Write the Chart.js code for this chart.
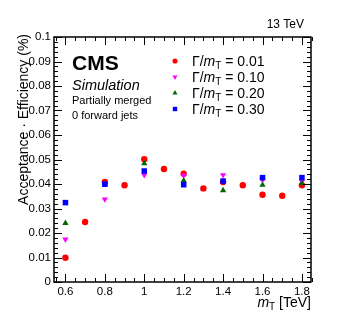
<!DOCTYPE html>
<html lang="en">
<head>
    <meta charset="UTF-8">
    <title>Acceptance x Efficiency</title>
    <script src="https://cdn.jsdelivr.net/npm/chart.js"></script>
    <style>
        body { margin: 0; background: #fff; }
        canvas { display: block; }
    </style>
</head>
<body>
    <canvas id="effChart" width="349" height="335"></canvas>

    <script>
        // masses (TeV)
        const massNarrow = [0.6, 0.7, 0.8, 0.9, 1.0, 1.1, 1.2, 1.3, 1.4, 1.5, 1.6, 1.7, 1.8];
        const massWide = [0.6, 0.8, 1.0, 1.2, 1.4, 1.6, 1.8];

        // acceptance x efficiency per width hypothesis
        const eff001 = [0.0099, 0.0245, 0.0408, 0.0395, 0.0501, 0.0461, 0.0442, 0.0382, 0.0408, 0.0395, 0.0356, 0.0352, 0.0395];
        const eff010 = [0.0174, 0.0338, 0.0437, 0.0436, 0.0437, 0.0416, 0.0411];
        const eff020 = [0.0240, 0.0400, 0.0484, 0.0414, 0.0374, 0.0396, 0.0403];
        const eff030 = [0.0324, 0.0399, 0.0453, 0.0397, 0.0412, 0.0426, 0.0426];

        const widthLabels = ['0.01', '0.10', '0.20', '0.30'];
        const xTicks = [0.6, 0.8, 1.0, 1.2, 1.4, 1.6, 1.8];
        const yTicks = [0, 0.01, 0.02, 0.03, 0.04, 0.05, 0.06, 0.07, 0.08, 0.09, 0.1];

        const FONT = "'Liberation Sans', Arial, sans-serif";
        Chart.defaults.font.family = FONT;
        Chart.defaults.font.size = 11.5;
        Chart.defaults.color = '#000';

        function pts(xs, ys) {
            return xs.map((x, i) => ({ x: x, y: ys[i] }));
        }
        const fmt = v => String(+v.toFixed(3));

        const styles = [
            { color: '#ff0000', pointStyle: 'circle', rotation: 0, radius: 3.2 },
            { color: '#ff00ff', pointStyle: 'triangle', rotation: 180, radius: 3.6 },
            { color: '#006600', pointStyle: 'triangle', rotation: 0, radius: 3.6 },
            { color: '#0000ff', pointStyle: 'rect', rotation: 0, radius: 3.9 }
        ];
        const series = [pts(massNarrow, eff001), pts(massWide, eff010), pts(massWide, eff020), pts(massWide, eff030)];

        // ROOT-like frame with inner ticks, and the text decorations
        const decorations = {
            id: 'decorations',
            afterDatasetsDraw(chart) {
                const ctx = chart.ctx;
                const a = chart.chartArea;
                const xs = chart.scales.x, ys = chart.scales.y;
                ctx.save();
                ctx.strokeStyle = '#000';
                ctx.lineWidth = 1;
                for (let i = 11; i <= 37; i++) {
                    const v = i * 0.05;
                    const px = Math.round(xs.getPixelForValue(v)) + 0.5;
                    const len = (i % 4 === 0) ? 8 : 4;
                    ctx.beginPath();
                    ctx.moveTo(px, a.bottom); ctx.lineTo(px, a.bottom - len);
                    ctx.moveTo(px, a.top); ctx.lineTo(px, a.top + len);
                    ctx.stroke();
                }
                for (let i = 0; i <= 50; i++) {
                    const v = i * 0.002;
                    const py = Math.round(ys.getPixelForValue(v)) + 0.5;
                    const len = (i % 5 === 0) ? 8 : 4;
                    ctx.beginPath();
                    ctx.moveTo(a.left, py); ctx.lineTo(a.left + len, py);
                    ctx.moveTo(a.right, py); ctx.lineTo(a.right - len, py);
                    ctx.stroke();
                }
                ctx.lineWidth = 1.5;
                ctx.strokeRect(a.left, a.top, a.right - a.left, a.bottom - a.top);

                ctx.fillStyle = '#000';
                ctx.textBaseline = 'alphabetic';
                ctx.textAlign = 'right';
                ctx.font = '12px ' + FONT;
                ctx.fillText('13 TeV', 304, 28);

                // CMS block
                ctx.textAlign = 'left';
                ctx.font = 'bold 21px ' + FONT;
                ctx.fillText('CMS', 72, 70);
                ctx.font = 'italic 14.5px ' + FONT;
                ctx.fillText('Simulation', 72, 90);
                ctx.font = '11px ' + FONT;
                ctx.fillText('Partially merged', 72, 104);
                ctx.fillText('0 forward jets', 72, 119);

                // legend
                const legY = [61, 77, 93, 109];
                styles.forEach((s, i) => {
                    ctx.fillStyle = s.color;
                    ctx.strokeStyle = s.color;
                    Chart.helpers.drawPoint(ctx, { pointStyle: s.pointStyle, rotation: s.rotation, radius: s.radius * 0.8, borderWidth: 0 }, 175, legY[i]);
                    ctx.fillStyle = '#000';
                    let x = 192;
                    const base = legY[i] + 5;
                    ctx.font = '14px ' + FONT;
                    ctx.fillText('Γ/', x, base); x += ctx.measureText('Γ/').width;
                    ctx.font = 'italic 14px ' + FONT;
                    ctx.fillText('m', x, base); x += ctx.measureText('m').width;
                    ctx.font = '10px ' + FONT;
                    ctx.fillText('T', x, base + 3); x += ctx.measureText('T').width;
                    ctx.font = '14px ' + FONT;
                    ctx.fillText(' = ' + widthLabels[i], x, base);
                });

                // x title, right aligned
                ctx.font = '14px ' + FONT;
                let tx = a.right;
                ctx.textAlign = 'right';
                ctx.fillText(' [TeV]', tx, 307); tx -= ctx.measureText(' [TeV]').width;
                ctx.font = '10px ' + FONT;
                ctx.fillText('T', tx, 310); tx -= ctx.measureText('T').width;
                ctx.font = 'italic 14px ' + FONT;
                ctx.fillText('m', tx, 307);

                // y title, rotated, right aligned near top
                ctx.translate(28, 34);
                ctx.rotate(-Math.PI / 2);
                ctx.font = '14px ' + FONT;
                ctx.textAlign = 'right';
                ctx.fillText('Acceptance · Efficiency (%)', 0, 0);
                ctx.restore();
            }
        };

        new Chart(document.getElementById('effChart'), {
            type: 'scatter',
            data: {
                datasets: series.map((d, i) => ({
                    label: 'Γ/mT = ' + widthLabels[i],
                    data: d,
                    backgroundColor: styles[i].color,
                    borderColor: styles[i].color,
                    borderWidth: 0,
                    pointStyle: styles[i].pointStyle,
                    rotation: styles[i].rotation,
                    pointRadius: styles[i].radius,
                    order: 3 - i
                }))
            },
            options: {
                responsive: false,
                animation: false,
                layout: { padding: { left: 0, top: 37, right: 38, bottom: 0 } },
                plugins: { legend: { display: false }, tooltip: { enabled: false } },
                scales: {
                    x: {
                        type: 'linear',
                        min: 0.542,
                        max: 1.846,
                        grid: { display: false, drawTicks: false },
                        border: { display: false },
                        ticks: { padding: 3, maxRotation: 0, callback: fmt },
                        afterBuildTicks: s => { s.ticks = xTicks.map(v => ({ value: v })); },
                        afterFit: s => { s.height = 53; }
                    },
                    y: {
                        min: 0,
                        max: 0.1,
                        grid: { display: false, drawTicks: false },
                        border: { display: false },
                        ticks: { padding: 3, callback: fmt },
                        afterBuildTicks: s => { s.ticks = yTicks.map(v => ({ value: v })); },
                        afterFit: s => { s.width = 54; }
                    }
                }
            },
            plugins: [decorations]
        });
    </script>
</body>
</html>
